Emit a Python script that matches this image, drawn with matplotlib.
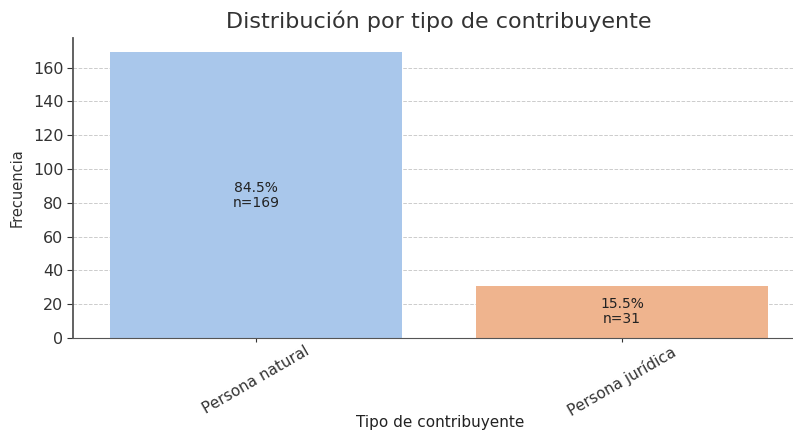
import matplotlib
matplotlib.use("Agg")
import matplotlib.pyplot as plt

categories = ["Persona natural", "Persona jurídica"]
counts = [169, 31]
percents = [84.5, 15.5]
colors = ["#a9c7eb", "#efb48e"]

fig = plt.figure(figsize=(7.93, 4.33), dpi=100)
ax = fig.add_axes([73/793, 95/433, 732/793, 300/433])

x = list(range(len(categories)))
bars = ax.bar(x, counts, width=0.8, color=colors, zorder=2)
for xi, c, p in zip(x, counts, percents):
    ax.text(xi, c / 2, f"{p:.1f}%\nn={c}", ha="center", va="center",
            fontsize=10, color="#222222", zorder=3, linespacing=1.1)

ax.set_xlim(-0.5, 1.5)
ax.set_ylim(0, max(counts) * 1.05)
ax.set_yticks(range(0, 161, 20))
ax.set_xticks(x)
ax.set_xticklabels(categories, rotation=30, ha="center", fontsize=11, color="#333333")
ax.tick_params(axis="y", labelsize=11.5, colors="#333333", length=4, pad=3)
ax.tick_params(axis="x", length=3, colors="#333333", pad=1)
ax.yaxis.grid(True, linestyle="--", color="#cccccc", linewidth=0.7, zorder=0)
ax.set_axisbelow(True)
for s in ["top", "right"]:
    ax.spines[s].set_visible(False)
ax.spines["left"].set_color("#555555")
ax.spines["bottom"].set_color("#555555")
ax.spines["left"].set_linewidth(1.3)

ax.set_title("Distribución por tipo de contribuyente", fontsize=16, color="#333333", pad=7)
ax.set_ylabel("Frecuencia", fontsize=10.5, color="#333333", labelpad=6)
fig.text(440/793, (433-423)/433, "Tipo de contribuyente", ha="center", va="center",
         fontsize=11, color="#222222")

fig.savefig("out.png", dpi=100)
